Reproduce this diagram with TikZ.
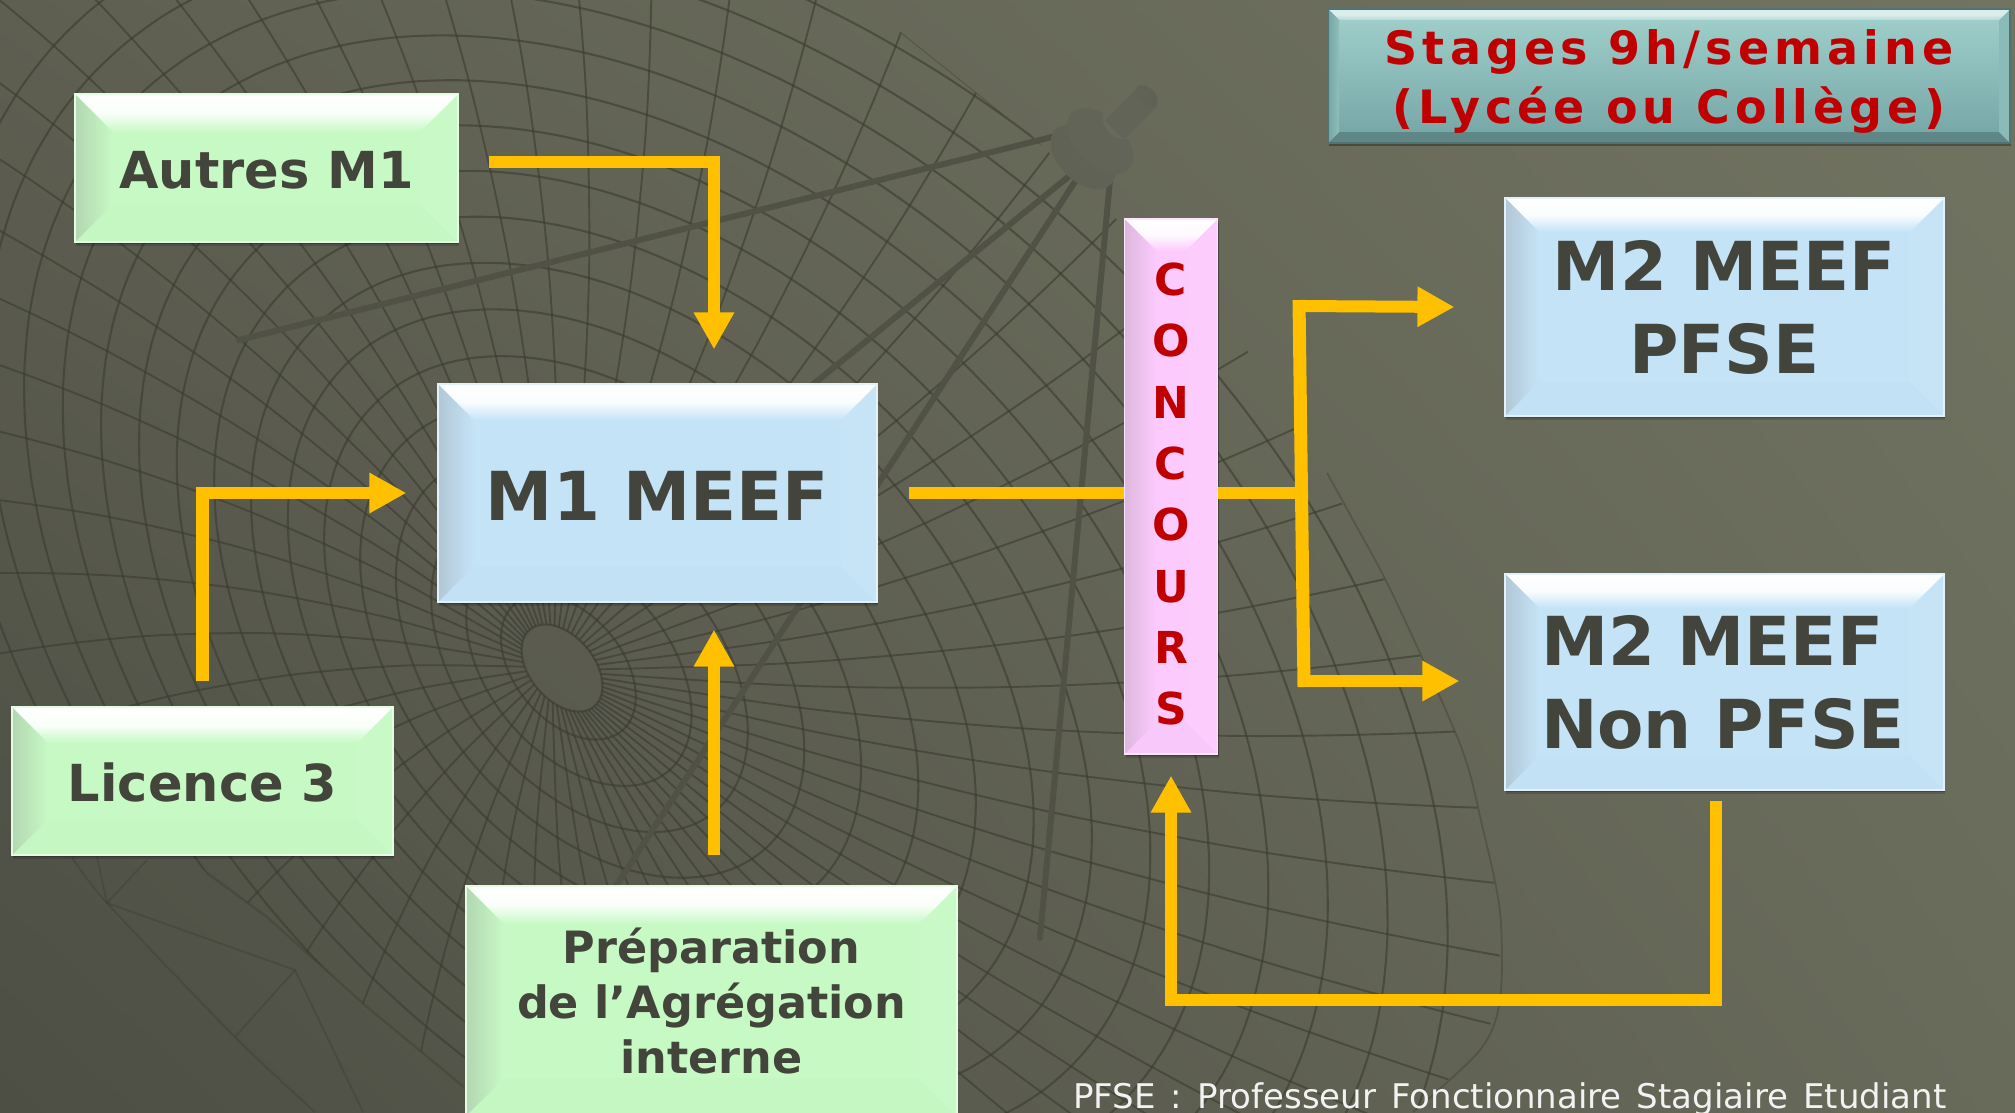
\documentclass[tikz,border=0pt]{standalone}
\usepackage{fontspec}
\setmainfont{DejaVu Sans}
\newfontfamily\notefont[WordSpace=1.4]{DejaVu Sans}
\usetikzlibrary{arrows.meta,shadows,shadings}
\definecolor{txtdark}{HTML}{43443B}
\definecolor{arrowgold}{HTML}{FFC000}
\definecolor{redtxt}{HTML}{C00000}
\definecolor{gridline}{HTML}{3C3D32}
\definecolor{strutcol}{HTML}{505246}
\definecolor{feedA}{HTML}{626457}
\definecolor{feedB}{HTML}{686A5D}
\definecolor{feedC}{HTML}{606255}
\definecolor{greenbase}{HTML}{C7F9C5}
\definecolor{bluebase}{HTML}{C5E3F7}
\definecolor{pinkbase}{HTML}{FCCAFD}
\definecolor{tealtop}{HTML}{A0D1CC}
\definecolor{tealbot}{HTML}{74A5A5}
\definecolor{bgul}{HTML}{5E5F51}
\definecolor{bgur}{HTML}{727462}
\definecolor{bgll}{HTML}{4D4E44}
\definecolor{bglr}{HTML}{686A5A}
\newcommand\fsz[2]{\fontsize{#1}{#2}\selectfont}
% #1 bevel size, #2 top-bevel lower colour, #3 top-bevel upper colour,
% #4 left-edge dark colour, #5 left inner colour, #6 bottom colour, #7 right colour
\newcommand\bevelparts[7]{%
  \coordinate (nw) at (path picture bounding box.north west);
  \coordinate (ne) at (path picture bounding box.north east);
  \coordinate (sw) at (path picture bounding box.south west);
  \coordinate (se) at (path picture bounding box.south east);
  \coordinate (inw) at ([shift={(#1pt,-#1pt)}]nw);
  \coordinate (ine) at ([shift={(-#1pt,-#1pt)}]ne);
  \coordinate (isw) at ([shift={(#1pt,#1pt)}]sw);
  \coordinate (ise) at ([shift={(-#1pt,#1pt)}]se);
  \fill[#6] (sw) -- (se) -- (ise) -- (isw) -- cycle;
  \fill[#7] (ne) -- (se) -- (ise) -- (ine) -- cycle;
  \begin{scope}
    \clip (nw) -- (ne) -- (ine) -- (inw) -- cycle;
    \shade[top color=#3,bottom color=#2,middle color=#3!90!#2] (nw) rectangle (ne |- ine);
  \end{scope}
  \begin{scope}
    \clip (nw) -- (inw) -- (isw) -- (sw) -- cycle;
    \shade[left color=#4,right color=#5] (nw) rectangle (sw -| isw);
  \end{scope}
}
\tikzset{
  softshadow/.style={
    drop shadow={shadow xshift=1pt,shadow yshift=-4pt,opacity=.15,fill=black},
    drop shadow={shadow xshift=1pt,shadow yshift=-2pt,opacity=.22,fill=black}},
  greenbox/.style={rectangle,inner sep=0pt,fill=greenbase,draw=greenbase!50!white,line width=1.2pt,
    align=center,text=txtdark,softshadow,
    path picture={\bevelparts{#1}{greenbase}{white}{greenbase!72!gray}{greenbase}{greenbase!99!black}{greenbase!96!white}}},
  bluebox/.style={rectangle,inner sep=0pt,fill=bluebase,draw=bluebase!50!white,line width=1.2pt,
    align=center,text=txtdark,softshadow,
    path picture={\bevelparts{#1}{bluebase}{white}{bluebase!72!gray}{bluebase}{bluebase!99!black}{bluebase!96!white}}},
  pinkbox/.style={rectangle,inner sep=0pt,fill=pinkbase,draw=pinkbase!50!white,line width=1.2pt,
    align=center,text=redtxt,softshadow,
    path picture={\bevelparts{#1}{pinkbase}{white}{pinkbase!75!gray}{pinkbase}{pinkbase!99!black}{pinkbase!96!white}}},
  tealbox/.style={rectangle,inner sep=0pt,top color=tealtop,bottom color=tealbot,draw=tealbot!70!black,line width=1.2pt,
    align=center,text=redtxt,
    drop shadow={shadow xshift=1pt,shadow yshift=-3pt,opacity=.3,fill=black},
    path picture={\bevelparts{#1}{tealtop!80!white}{tealtop!40!white}{tealbot}{tealtop!60!tealbot}{tealbot!82!black}{tealtop!50!tealbot}}},
  conn/.style={draw=arrowgold,line width=12.5pt,line join=miter},
  tipfat/.style={-{Triangle[length=37pt,width=38pt]}},
  gridstroke/.style={draw=gridline,opacity=.62,line width=2.1pt},
  rimstroke/.style={draw=gridline,opacity=.4,line width=1.8pt},
  strut/.style={draw=strutcol,line width=#1,line cap=round},
  declare function={
    dishcx(\u)=562+165*\u; dishcy(\u)=668-16*\u;
    disha(\u)=50+856*\u; dishb(\u)=32+560*\u; dishphi(\u)=50-8*\u;
    dishx(\u,\v)=dishcx(\u)+disha(\u)*cos(\v)*cos(dishphi(\u))-dishb(\u)*sin(\v)*sin(dishphi(\u));
    dishy(\u,\v)=dishcy(\u)+disha(\u)*cos(\v)*sin(dishphi(\u))+dishb(\u)*sin(\v)*cos(dishphi(\u));
  }
}
\begin{document}
\begin{tikzpicture}[x=1pt,y=-1pt]
\useasboundingbox (0,0) rectangle (2015,1112);
\clip (0,0) rectangle (2015,1112);
% background
\shade[upper left=bgul,upper right=bgur,lower left=bgll,lower right=bglr] (0,0) rectangle (2015,1112);
% dish grid
\begin{scope}
  \clip (-10,-10) -- (830,-10) -- (900,32) -- (975,92) -- (1024,128) -- (1112,215) -- (1200,300) -- (1247,350)
     -- (1317,466) -- (1353,520) -- (1393,595) -- (1460,744) -- (1482,825) -- (1500,912) -- (1500,1000)
     -- (1480,1050) -- (1413,1112) -- (1413,1120) -- (490,1120) -- (464,1087) -- (367,1007) -- (267,917)
     -- (207,873) -- (-10,690) -- cycle;
  \foreach \kk in {0,...,16}{
    \pgfmathsetmacro\tv{\kk==0 ? 0 : (\kk-0.4)/15.6}
    \draw[gridstroke] plot[domain=0:355,samples=72,smooth cycle] ({dishx(\tv,\x)},{dishy(\tv,\x)});
  }
  \foreach \ang in {0,6,...,354}{
    \draw[gridstroke,line width=1.9pt] plot[domain=0:1.25,samples=6,smooth] ({dishx(\x,\ang)},{dishy(\x,\ang)});
  }
\end{scope}
% rim lines
\draw[rimstroke] plot[smooth] coordinates {(72,857) (107,903) (235,1037) (315,1112)};
\draw[rimstroke] (107,903) -- (295,970) -- (235,1037);
\draw[rimstroke] (295,970) -- (363,1112);
\draw[rimstroke] (107,903) -- (147,860);
\draw[rimstroke] (107,903) -- (97,857);
\draw[rimstroke,line width=2.4pt] (207,873) -- (267,917) -- (367,1007) -- (464,1087);
\draw[rimstroke] plot[smooth] coordinates {(1327,473) (1353,520) (1393,595) (1460,744) (1482,825) (1500,912) (1500,1000) (1480,1050) (1413,1112)};
\draw[rimstroke,line width=1pt] plot[smooth] coordinates {(900,32) (975,92) (1003,115)};
% antenna struts
\draw[strut=6pt] (1060,135) -- (239,340);
\draw[strut=6pt] (1073,173) -- (720,460);
\draw[strut=6pt] (1078,177) -- (616,886);
\draw[strut=6pt] (1110,180) -- (1040,938);
% antenna feed
\fill[feedC,rotate around={-45:(1083,157)}] (1083,157) ellipse (39pt and 24pt);
\fill[feedA,rotate around={-45:(1100,141)}] (1100,141) ellipse (40pt and 24pt);
\fill[feedB,rotate around={-45:(1118,124)}] (1118,124) ellipse (18pt and 12pt);
\fill[feedA] (1105,121) -- (1138,87) -- (1157,106) -- (1124,140) -- cycle;
\fill[feedC,rotate around={-45:(1147,96)}] (1147,96) ellipse (13pt and 8pt);
% boxes
\node[greenbox=38,minimum width=383pt,minimum height=148pt,font=\bfseries\fsz{51}{60},text height=42pt] (autres) at (266.5,168) {Autres M1};
\node[greenbox=36,minimum width=381pt,minimum height=148pt,font=\bfseries\fsz{51}{60},text height=42pt] (lic) at (202.5,781) {Licence 3};
\node[greenbox=38,minimum width=491pt,minimum height=230pt,font=\bfseries\fsz{44.5}{55}] (prep) at (711.5,1001)
   {Préparation\\de l’Agrégation\\interne};
\node[bluebox=36,minimum width=439pt,minimum height=218pt,font=\bfseries\fsz{67.5}{83},text height=54pt] (m1) at (657.5,493) {M1 MEEF};
\node[bluebox=34,minimum width=439pt,minimum height=218pt,font=\bfseries\fsz{67.5}{83}] (m2p) at (1724.5,307) {M2 MEEF\\PFSE};
\node[bluebox=34,minimum width=439pt,minimum height=216pt,text width=367pt,align=left,font=\bfseries\fsz{67.5}{83}] (m2n) at (1724.5,682) {M2 MEEF\\Non PFSE};
\node[pinkbox=32,minimum width=93pt,minimum height=535pt,font=\bfseries\fsz{44}{61.3}] (conc) at (1171,486.5) {\rule{0pt}{48pt}C\\O\\N\\C\\O\\U\\R\\S};
\node[tealbox=11,minimum width=682pt,minimum height=134pt,font=\bfseries\addfontfeatures{LetterSpace=11}\fsz{46}{59}] (stages) at (1669,76)
   {\rule{0pt}{45pt}Stages 9h/semaine\\(Lycée ou Collège)};
\node[anchor=base west,inner sep=0pt,text=white!95!black,font=\notefont\fsz{34}{38}] (note) at (1073,1108) {PFSE : Professeur Fonctionnaire Stagiaire Etudiant};
% connectors
\draw[conn,tipfat] ([shift={(30pt,6pt)}]autres.east) -| ([shift={(56.5pt,34pt)}]m1.north);
\draw[conn,tipfat] ([yshift=25pt]lic.north) |- ([xshift=-31pt]m1.west);
\draw[conn,tipfat] ([shift={(2.5pt,30pt)}]prep.north) -- ([shift={(56.5pt,-27pt)}]m1.south);
\draw[conn,line width=12pt] ([xshift=31pt]m1.east) -- (m1.east -| conc.west);
\coordinate (junction) at (1300,493);
\coordinate (branchtop) at (1299,300);
\coordinate (branchbot) at (1304,687);
\draw[conn,line width=12pt] (m1.east -| conc.east) -- (junction);
\draw[conn,line width=13pt] (branchtop) -- (branchbot);
\draw[conn,line width=12pt,tipfat] ([yshift=-6pt]branchtop) -- ([xshift=-50pt]m2p.west);
\draw[conn,line width=12pt,tipfat] ([yshift=6pt]branchbot) -- ([xshift=-45pt,yshift=1pt]m2n.west);
\coordinate (loopcorner) at (1171,1000);
\draw[conn,tipfat] ([shift={(-8.5pt,-10pt)}]m2n.south) |- (loopcorner) -- ([yshift=-21pt]conc.south);
\end{tikzpicture}
\end{document}
